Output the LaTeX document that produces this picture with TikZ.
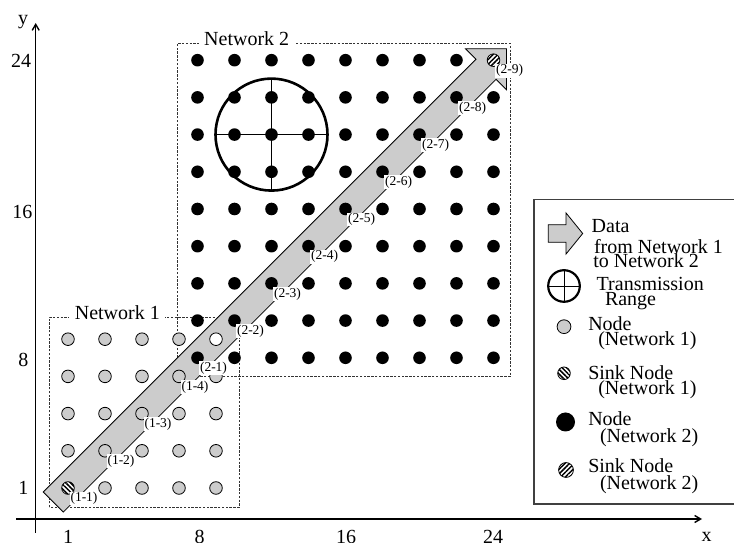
\documentclass[tikz,border=0pt]{standalone}
\usepackage{fontspec}
\setmainfont{Liberation Serif}
\usetikzlibrary{arrows.meta,patterns.meta}

\definecolor{nodegray}{gray}{0.8}

\begin{document}
\begin{tikzpicture}[x=1pt,y=1pt,
  every node/.style={inner sep=0pt, outer sep=0pt},
  txt/.style={font=\fontsize{20}{20}\selectfont},
  lgtxt/.style={txt, anchor=base west},
  hoplabel/.style={font=\fontsize{13.5}{13.5}\selectfont, fill=white,
                   inner xsep=0.8pt, inner ysep=0.8pt, xshift=16pt, yshift=-10.5pt},
  nettitle/.style={txt, anchor=base, fill=white, inner xsep=5.5pt},
  netbox/.style={draw=black!80, line width=0.9pt, dash pattern=on 2.4pt off 1.4pt},
  axisline/.style={line width=1.4pt, -{Straight Barb[length=6pt,width=7pt]}},
  dataarrow/.style={fill=nodegray, draw=black, line width=0.8pt, line join=miter},
  graynode/.style={circle, draw, line width=0.8pt, fill=nodegray, minimum size=12.6pt},
  blacknode/.style={circle, fill=black, minimum size=12.6pt},
  sinkA/.style={circle, draw, line width=0.8pt, fill=white,
                postaction={pattern={Lines[angle=-45,distance=3.3pt,line width=1.5pt]}},
                minimum size=12.6pt},
  sinkB/.style={circle, draw, line width=0.8pt, fill=white,
                postaction={pattern={Lines[angle=45,distance=3.3pt,line width=1.5pt]}},
                minimum size=12.6pt},
  rangecircle/.style={circle, draw, line width=2.6pt},
  legendbox/.style={draw=black!75, line width=1.2pt}
]
\useasboundingbox (0,0) rectangle (734,543);

% ---------- axes ----------
\coordinate (xfrom) at (16,24);
\coordinate (xto) at (702,24);
\coordinate (yfrom) at (35.7,10);
\coordinate (yto) at (35.7,520);
\draw[axisline] (xfrom) -- (xto);
\draw[axisline] (yfrom) -- (yto);
\node[txt] (ylab) at (23,521.3) {y};
\node[txt] (xlab) at (706.7,6.3) {x};

\node[txt] (ty24) at (21.2,482) {24};
\node[txt] (ty16) at (22.5,331.3) {16};
\node[txt] (ty8)  at (23.3,183) {8};
\node[txt] (ty1)  at (23.3,54.7) {1};

\node[txt, anchor=north] (tx1)  at (68,13) {1};
\node[txt, anchor=north] (tx8)  at (199.5,13) {8};
\node[txt, anchor=north] (tx16) at (346,13) {16};
\node[txt, anchor=north] (tx24) at (493,13) {24};

% ---------- network areas ----------
\draw[netbox] (49.3,35.7) rectangle (239.3,225.7);
\draw[netbox] (177.3,166.2) rectangle (510,499.7);
\node[nettitle] (net1) at (117.3,223) {Network 1};
\node[nettitle] (net2) at (246.7,497) {Network 2};

% ---------- data path from sink 1 to sink 2 ----------
\begin{scope}[shift={(53.3,41)}, rotate=45]
  \draw[dataarrow] (0,-14.2) -- (612,-14.2) -- (612,-29) -- (641,0)
        -- (612,29) -- (612,14.2) -- (0,14.2) -- cycle;
\end{scope}

% ---------- sensor grids ----------
\begin{scope}[shift={(49.5pt,36.4pt)}, x=18.5pt, y=18.6pt]
  % network 1 (5 x 5)
  \foreach \i in {1,3,5,7,9}{
    \foreach \j in {1,3,5,7,9}{
      \ifnum\i\j=11 \else\ifnum\i\j=99 \else
        \node[graynode] (a-\i-\j) at (\i,\j) {};
      \fi\fi
    }
  }
  \node[graynode, fill=white] (a-9-9) at (9,9) {};
  \node[sinkA] (a-1-1) at (1,1) {};

  % network 2 (9 x 9)
  \foreach \i in {8,10,...,24}{
    \foreach \j in {8,10,...,24}{
      \ifnum\i\j=2424 \else
        \node[blacknode] (b-\i-\j) at (\i,\j) {};
      \fi
    }
  }
  \node[sinkB] (b-24-24) at (24,24) {};

  % transmission range of one node
  \node[rangecircle, minimum size=112pt] (range) at (b-12-20) {};
  \draw[line width=0.9pt] (range.west) -- (range.east);
  \draw[line width=0.9pt] (range.north) -- (range.south);

  % hop labels along the path
  \foreach \k/\c in {1/1,2/3,3/5,4/7}{
    \node[hoplabel] (h1-\k) at (\c,\c) {(1-\k)};
  }
  \foreach \k/\c in {1/8,2/10,3/12,4/14,5/16,6/18,7/20,8/22,9/24}{
    \node[hoplabel] (h2-\k) at (\c,\c) {(2-\k)};
  }
\end{scope}

% ---------- legend ----------
\draw[legendbox] (534,39) rectangle (745,343.7);

\draw[dataarrow] (548.3,300.7) -- (566,300.7) -- (566,288.9) -- (582.7,309.5)
      -- (566,330.1) -- (566,318.3) -- (548.3,318.3) -- cycle;
\node[lgtxt] (lg-data1) at (591.7,310.3) {Data};
\node[lgtxt] (lg-data2) at (594,289) {from Network 1};
\node[lgtxt] (lg-data3) at (593.3,275.7) {to Network 2};

\node[rangecircle, line width=2.2pt, minimum size=31.6pt] (lg-range) at (564,257) {};
\draw[line width=0.9pt] (lg-range.west) -- (lg-range.east);
\draw[line width=0.9pt] (lg-range.north) -- (lg-range.south);
\node[lgtxt] (lg-range1) at (596.7,252) {Transmission};
\node[lgtxt] (lg-range2) at (605,237) {Range};

\node[graynode, minimum size=13.8pt] (lg-n1) at (564,216.3) {};
\node[lgtxt] (lg-n1a) at (588.3,212.3) {Node};
\node[lgtxt] (lg-n1b) at (598.3,197) {(Network 1)};

\node[sinkA] (lg-s1) at (564,169.7) {};
\node[lgtxt] (lg-s1a) at (588.3,163.7) {Sink Node};
\node[lgtxt] (lg-s1b) at (598.3,148) {(Network 1)};

\node[blacknode, minimum size=19pt] (lg-n2) at (565.5,121) {};
\node[lgtxt] (lg-n2a) at (588.3,117) {Node};
\node[lgtxt] (lg-n2b) at (600,100.3) {(Network 2)};

\node[sinkB, minimum size=14.8pt] (lg-s2) at (566,73) {};
\node[lgtxt] (lg-s2a) at (588.3,70.3) {Sink Node};
\node[lgtxt] (lg-s2b) at (600,53.7) {(Network 2)};
\end{tikzpicture}
\end{document}
